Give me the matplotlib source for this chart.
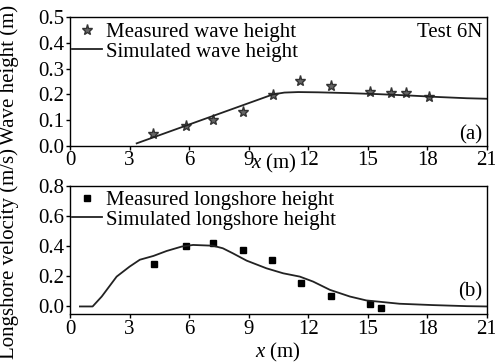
import matplotlib.pyplot as plt

plt.rcParams['font.family'] = ['Liberation Serif', 'DejaVu Serif']
plt.rcParams['mathtext.fontset'] = 'custom'
plt.rcParams['mathtext.rm'] = 'Liberation Serif'
plt.rcParams['mathtext.it'] = 'Liberation Serif:italic'

# (a) wave height
meas_h_x = [4.19, 5.82, 7.21, 8.72, 10.23, 11.61, 13.17, 15.1, 16.19, 16.91, 18.07]
meas_h_y = [0.045, 0.077, 0.10, 0.13, 0.198, 0.252, 0.234, 0.208, 0.207, 0.204, 0.189]
sim_h_x = [3.36, 10.23, 10.8, 11.5, 12.5, 14.0, 15.5, 17.0, 18.5, 20.0, 21.0]
sim_h_y = [0.01, 0.200, 0.207, 0.209, 0.208, 0.205, 0.201, 0.196, 0.190, 0.185, 0.183]

# (b) longshore velocity
meas_v_x = [4.23, 5.82, 7.21, 8.72, 10.2, 11.63, 13.17, 15.13, 15.65]
meas_v_y = [0.28, 0.403, 0.423, 0.372, 0.309, 0.156, 0.068, 0.018, -0.009]
sim_v_x = [0.5, 1.14, 1.6, 2.35, 3.0, 3.52, 4.2, 4.87, 5.62, 6.2, 7.2, 7.7, 8.2, 8.9,
           9.9, 10.74, 11.58, 12.25, 13.1, 14.1, 14.93, 16.6, 18.3, 20.0, 21.0]
sim_v_y = [0.0, 0.0, 0.066, 0.198, 0.264, 0.31, 0.335, 0.368, 0.397, 0.408, 0.403, 0.386,
           0.353, 0.304, 0.253, 0.22, 0.198, 0.165, 0.11, 0.066, 0.04, 0.018, 0.009, 0.002, 0.0]

xticks = [0, 3, 6, 9, 12, 15, 18, 21]
fs = 15

fig = plt.figure(figsize=(4.95, 3.63), dpi=100)
ax1 = fig.add_axes([0.1414, 0.598, 0.842, 0.355])
ax2 = fig.add_axes([0.1414, 0.135, 0.842, 0.353])

ax1.plot(meas_h_x, meas_h_y, ls='none', marker='*', ms=8, color='#666666',
         mec='#333333', label='Measured wave height')
ax1.plot(sim_h_x, sim_h_y, '-', color='#222222', lw=1.3, label='Simulated wave height')
ax1.set_xlim(0, 21)
ax1.set_ylim(0, 0.5)
ax1.set_yticks([0.0, 0.1, 0.2, 0.3, 0.4, 0.5])
ax1.set_ylabel('Wave height (m)', fontsize=fs)
ax1.yaxis.set_label_coords(-0.122, 0.55)
ax1.text(0.99, 0.88, 'Test 6N', transform=ax1.transAxes, ha='right', va='center', fontsize=fs)
ax1.text(0.99, 0.085, '(a)', transform=ax1.transAxes, ha='right', va='center', fontsize=fs)

ax2.plot(meas_v_x, meas_v_y, ls='none', marker='s', ms=5, color='black',
         label='Measured longshore height')
ax2.plot(sim_v_x, sim_v_y, '-', color='#222222', lw=1.3, label='Simulated longshore height')
ax2.set_xlim(0, 21)
ax2.set_ylim(-0.05, 0.8)
ax2.set_yticks([0.0, 0.2, 0.4, 0.6, 0.8])
ax2.set_ylabel('Longshore velocity (m/s)', fontsize=fs)
ax2.yaxis.set_label_coords(-0.122, 0.47)
ax2.text(0.99, 0.17, '(b)', transform=ax2.transAxes, ha='right', va='center', fontsize=fs)

for ax, lab_x, lab_y, leg_y in [(ax1, 0.49, -0.05, 0.975), (ax2, 0.5, -0.21, 0.98)]:
    ax.set_xticks(xticks)
    ax.set_xlabel('$x$ (m)', fontsize=fs)
    ax.xaxis.set_label_coords(lab_x, lab_y)
    ax.tick_params(labelsize=fs, direction='out', length=3, width=1, pad=1)
    for s in ax.spines.values():
        s.set_linewidth(1)
    ax.legend(loc='upper left', bbox_to_anchor=(0.0, leg_y), frameon=False, fontsize=fs,
              handlelength=1.45, handletextpad=0.2, labelspacing=0.0, borderaxespad=0,
              borderpad=0.1)

fig.savefig('out.png', dpi=100)
